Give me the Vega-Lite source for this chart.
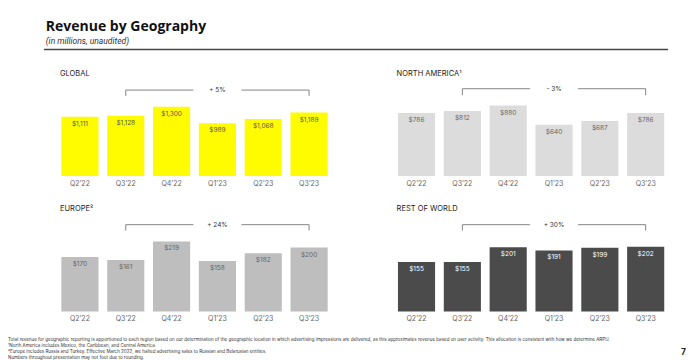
{
  "$schema": "https://vega.github.io/schema/vega-lite/v6.json",
  "padding": {"left": 8, "top": 19.5, "right": 0, "bottom": 0},
  "config": {
    "view": {"stroke": null},
    "font": "Inter",
    "title": {"anchor": "start", "fontSize": 7.5, "fontWeight": "normal", "color": "#222", "offset": 3, "dx": 3, "font": "Inter"},
    "axisX": {"labelFontSize": 7, "labelColor": "#666", "ticks": false, "domain": false, "labelPadding": 3, "grid": false, "labelAngle": 0}
  },
  "datasets": {
    "global": [
      {"quarter": "Q2’22", "revenue": 1111}, {"quarter": "Q3’22", "revenue": 1128}, {"quarter": "Q4’22", "revenue": 1300},
      {"quarter": "Q1’23", "revenue": 989}, {"quarter": "Q2’23", "revenue": 1068}, {"quarter": "Q3’23", "revenue": 1189}
    ],
    "na": [
      {"quarter": "Q2’22", "revenue": 786}, {"quarter": "Q3’22", "revenue": 812}, {"quarter": "Q4’22", "revenue": 880},
      {"quarter": "Q1’23", "revenue": 640}, {"quarter": "Q2’23", "revenue": 687}, {"quarter": "Q3’23", "revenue": 786}
    ],
    "europe": [
      {"quarter": "Q2’22", "revenue": 170}, {"quarter": "Q3’22", "revenue": 161}, {"quarter": "Q4’22", "revenue": 219},
      {"quarter": "Q1’23", "revenue": 158}, {"quarter": "Q2’23", "revenue": 182}, {"quarter": "Q3’23", "revenue": 200}
    ],
    "row": [
      {"quarter": "Q2’22", "revenue": 155}, {"quarter": "Q3’22", "revenue": 155}, {"quarter": "Q4’22", "revenue": 201},
      {"quarter": "Q1’23", "revenue": 191}, {"quarter": "Q2’23", "revenue": 199}, {"quarter": "Q3’23", "revenue": 202}
    ],
    "notes": [
      {"line": 1, "text": "Total revenue for geographic reporting is apportioned to each region based on our determination of the geographic location in which advertising impressions are delivered, as this approximates revenue based on user activity. This allocation is consistent with how we determine ARPU."},
      {"line": 2, "text": "¹North America includes Mexico, the Caribbean, and Central America."},
      {"line": 3, "text": "²Europe includes Russia and Turkey. Effective March 2022, we halted advertising sales to Russian and Belarusian entities."},
      {"line": 4, "text": "Numbers throughout presentation may not foot due to rounding."}
    ]
  },
  "spacing": 14.5,
  "vconcat": [
    {
      "width": 611,
      "height": 5,
      "title": {"text": "Revenue by Geography", "subtitle": "(in millions, unaudited)", "anchor": "start", "font": "Open Sans", "fontSize": 14, "fontWeight": "bold", "color": "#111", "subtitleFontSize": 8.5, "subtitleFontStyle": "italic", "subtitleColor": "#333", "subtitleFont": "Roboto", "subtitlePadding": 3, "offset": 3, "dx": 2.5},
      "data": {"values": [{"start": 0, "end": 1}]},
      "mark": {"type": "rule", "color": "#444", "strokeWidth": 1.4, "xOffset": -13},
      "encoding": {
        "x": {"field": "start", "type": "quantitative", "scale": {"domain": [0, 1]}, "axis": null},
        "x2": {"field": "end"},
        "y": {"datum": 1, "type": "quantitative", "scale": {"domain": [0, 1]}, "axis": null}
      }
    },
    {
      "columns": 2,
      "spacing": {"row": 18.5, "column": 61.6},
      "concat": [
        {
          "width": 275, "height": 96,
          "title": {"text": "GLOBAL"},
          "layer": [
            {"data": {"name": "global"}, "mark": {"type": "bar", "color": "#FFFC00"},
             "encoding": {
               "x": {"field": "quarter", "type": "nominal", "scale": {"domain": ["Q2’22", "Q3’22", "Q4’22", "Q1’23", "Q2’23", "Q3’23"], "paddingInner": 0.19, "paddingOuter": 0.095}, "axis": {"title": null}},
               "y": {"field": "revenue", "type": "quantitative", "scale": {"domain": [0, 1758]}, "axis": null}}},
            {"data": {"name": "global"}, "mark": {"type": "text", "dy": 7, "baseline": "middle", "fontSize": 6.5, "color": "#555"},
             "encoding": {
               "x": {"field": "quarter", "type": "nominal", "axis": {"title": null}},
               "y": {"field": "revenue", "type": "quantitative", "axis": null},
               "text": {"field": "revenue", "type": "quantitative", "format": "$,.0f"}}},
            {"data": {"values": [{"from": "Q3’22", "mid": "Q1’23", "to": "Q3’23", "change": "+ 5%"}]},
             "layer": [
               {"mark": {"type": "rule", "color": "#666", "strokeWidth": 0.8, "x2Offset": -24}, "encoding": {"x": {"field": "from", "type": "nominal", "axis": {"title": null}}, "x2": {"field": "mid"}, "y": {"datum": 1611, "axis": null}}},
               {"mark": {"type": "rule", "color": "#666", "strokeWidth": 0.8, "xOffset": 24}, "encoding": {"x": {"field": "mid", "type": "nominal", "axis": {"title": null}}, "x2": {"field": "to"}, "y": {"datum": 1611, "axis": null}}},
               {"mark": {"type": "rule", "color": "#666", "strokeWidth": 0.8}, "encoding": {"x": {"field": "from", "type": "nominal", "axis": {"title": null}}, "y": {"datum": 1611, "axis": null}, "y2": {"datum": 1501}}},
               {"mark": {"type": "rule", "color": "#666", "strokeWidth": 0.8}, "encoding": {"x": {"field": "to", "type": "nominal", "axis": {"title": null}}, "y": {"datum": 1611, "axis": null}, "y2": {"datum": 1501}}},
               {"mark": {"type": "text", "fontSize": 6.5, "color": "#333", "baseline": "middle"}, "encoding": {"x": {"field": "mid", "type": "nominal", "axis": {"title": null}}, "y": {"datum": 1611, "axis": null}, "text": {"field": "change"}}}
             ]}
          ]
        },
        {
          "width": 275, "height": 96,
          "title": {"text": "NORTH AMERICA¹"},
          "layer": [
            {"data": {"name": "na"}, "mark": {"type": "bar", "color": "#DCDCDC"},
             "encoding": {
               "x": {"field": "quarter", "type": "nominal", "scale": {"domain": ["Q2’22", "Q3’22", "Q4’22", "Q1’23", "Q2’23", "Q3’23"], "paddingInner": 0.19, "paddingOuter": 0.095}, "axis": {"title": null}},
               "y": {"field": "revenue", "type": "quantitative", "scale": {"domain": [0, 1190]}, "axis": null}}},
            {"data": {"name": "na"}, "mark": {"type": "text", "dy": 7, "baseline": "middle", "fontSize": 6.5, "color": "#666"},
             "encoding": {
               "x": {"field": "quarter", "type": "nominal", "axis": {"title": null}},
               "y": {"field": "revenue", "type": "quantitative", "axis": null},
               "text": {"field": "revenue", "type": "quantitative", "format": "$,.0f"}}},
            {"data": {"values": [{"from": "Q3’22", "mid": "Q1’23", "to": "Q3’23", "change": "- 3%"}]},
             "layer": [
               {"mark": {"type": "rule", "color": "#666", "strokeWidth": 0.8, "x2Offset": -24}, "encoding": {"x": {"field": "from", "type": "nominal", "axis": {"title": null}}, "x2": {"field": "mid"}, "y": {"datum": 1091, "axis": null}}},
               {"mark": {"type": "rule", "color": "#666", "strokeWidth": 0.8, "xOffset": 24}, "encoding": {"x": {"field": "mid", "type": "nominal", "axis": {"title": null}}, "x2": {"field": "to"}, "y": {"datum": 1091, "axis": null}}},
               {"mark": {"type": "rule", "color": "#666", "strokeWidth": 0.8}, "encoding": {"x": {"field": "from", "type": "nominal", "axis": {"title": null}}, "y": {"datum": 1091, "axis": null}, "y2": {"datum": 1010}}},
               {"mark": {"type": "rule", "color": "#666", "strokeWidth": 0.8}, "encoding": {"x": {"field": "to", "type": "nominal", "axis": {"title": null}}, "y": {"datum": 1091, "axis": null}, "y2": {"datum": 1010}}},
               {"mark": {"type": "text", "fontSize": 6.5, "color": "#333", "baseline": "middle"}, "encoding": {"x": {"field": "mid", "type": "nominal", "axis": {"title": null}}, "y": {"datum": 1091, "axis": null}, "text": {"field": "change"}}}
             ]}
          ]
        },
        {
          "width": 275, "height": 96,
          "title": {"text": "EUROPE²"},
          "layer": [
            {"data": {"name": "europe"}, "mark": {"type": "bar", "color": "#BEBEBE"},
             "encoding": {
               "x": {"field": "quarter", "type": "nominal", "scale": {"domain": ["Q2’22", "Q3’22", "Q4’22", "Q1’23", "Q2’23", "Q3’23"], "paddingInner": 0.19, "paddingOuter": 0.095}, "axis": {"title": null}},
               "y": {"field": "revenue", "type": "quantitative", "scale": {"domain": [0, 296]}, "axis": null}}},
            {"data": {"name": "europe"}, "mark": {"type": "text", "dy": 7, "baseline": "middle", "fontSize": 6.5, "color": "#666"},
             "encoding": {
               "x": {"field": "quarter", "type": "nominal", "axis": {"title": null}},
               "y": {"field": "revenue", "type": "quantitative", "axis": null},
               "text": {"field": "revenue", "type": "quantitative", "format": "$,.0f"}}},
            {"data": {"values": [{"from": "Q3’22", "mid": "Q1’23", "to": "Q3’23", "change": "+ 24%"}]},
             "layer": [
               {"mark": {"type": "rule", "color": "#666", "strokeWidth": 0.8, "x2Offset": -24}, "encoding": {"x": {"field": "from", "type": "nominal", "axis": {"title": null}}, "x2": {"field": "mid"}, "y": {"datum": 271.3, "axis": null}}},
               {"mark": {"type": "rule", "color": "#666", "strokeWidth": 0.8, "xOffset": 24}, "encoding": {"x": {"field": "mid", "type": "nominal", "axis": {"title": null}}, "x2": {"field": "to"}, "y": {"datum": 271.3, "axis": null}}},
               {"mark": {"type": "rule", "color": "#666", "strokeWidth": 0.8}, "encoding": {"x": {"field": "from", "type": "nominal", "axis": {"title": null}}, "y": {"datum": 271.3, "axis": null}, "y2": {"datum": 253}}},
               {"mark": {"type": "rule", "color": "#666", "strokeWidth": 0.8}, "encoding": {"x": {"field": "to", "type": "nominal", "axis": {"title": null}}, "y": {"datum": 271.3, "axis": null}, "y2": {"datum": 253}}},
               {"mark": {"type": "text", "fontSize": 6.5, "color": "#333", "baseline": "middle"}, "encoding": {"x": {"field": "mid", "type": "nominal", "axis": {"title": null}}, "y": {"datum": 271.3, "axis": null}, "text": {"field": "change"}}}
             ]}
          ]
        },
        {
          "width": 275, "height": 96,
          "title": {"text": "REST OF WORLD"},
          "layer": [
            {"data": {"name": "row"}, "mark": {"type": "bar", "color": "#4B4B4B"},
             "encoding": {
               "x": {"field": "quarter", "type": "nominal", "scale": {"domain": ["Q2’22", "Q3’22", "Q4’22", "Q1’23", "Q2’23", "Q3’23"], "paddingInner": 0.19, "paddingOuter": 0.095}, "axis": {"title": null}},
               "y": {"field": "revenue", "type": "quantitative", "scale": {"domain": [0, 296]}, "axis": null}}},
            {"data": {"name": "row"}, "mark": {"type": "text", "dy": 7, "baseline": "middle", "fontSize": 6.5, "color": "#FFFFFF"},
             "encoding": {
               "x": {"field": "quarter", "type": "nominal", "axis": {"title": null}},
               "y": {"field": "revenue", "type": "quantitative", "axis": null},
               "text": {"field": "revenue", "type": "quantitative", "format": "$,.0f"}}},
            {"data": {"values": [{"from": "Q3’22", "mid": "Q1’23", "to": "Q3’23", "change": "+ 30%"}]},
             "layer": [
               {"mark": {"type": "rule", "color": "#666", "strokeWidth": 0.8, "x2Offset": -24}, "encoding": {"x": {"field": "from", "type": "nominal", "axis": {"title": null}}, "x2": {"field": "mid"}, "y": {"datum": 271.3, "axis": null}}},
               {"mark": {"type": "rule", "color": "#666", "strokeWidth": 0.8, "xOffset": 24}, "encoding": {"x": {"field": "mid", "type": "nominal", "axis": {"title": null}}, "x2": {"field": "to"}, "y": {"datum": 271.3, "axis": null}}},
               {"mark": {"type": "rule", "color": "#666", "strokeWidth": 0.8}, "encoding": {"x": {"field": "from", "type": "nominal", "axis": {"title": null}}, "y": {"datum": 271.3, "axis": null}, "y2": {"datum": 253}}},
               {"mark": {"type": "rule", "color": "#666", "strokeWidth": 0.8}, "encoding": {"x": {"field": "to", "type": "nominal", "axis": {"title": null}}, "y": {"datum": 271.3, "axis": null}, "y2": {"datum": 253}}},
               {"mark": {"type": "text", "fontSize": 6.5, "color": "#333", "baseline": "middle"}, "encoding": {"x": {"field": "mid", "type": "nominal", "axis": {"title": null}}, "y": {"datum": 271.3, "axis": null}, "text": {"field": "change"}}}
             ]}
          ]
        }
      ]
    },
    {
      "width": 629,
      "height": 24,
      "layer": [
        {"data": {"name": "notes"}, "mark": {"type": "text", "align": "left", "baseline": "middle", "fontSize": 4.5, "color": "#333", "dx": -49},
         "encoding": {
           "x": {"datum": 0, "type": "quantitative", "scale": {"domain": [0, 1]}, "axis": null},
           "y": {"field": "line", "type": "ordinal", "axis": null},
           "text": {"field": "text"}}},
        {"data": {"values": [{"page": "7"}]}, "mark": {"type": "text", "align": "right", "baseline": "middle", "fontSize": 8.5, "fontWeight": "bold", "color": "#222"},
         "encoding": {
           "x": {"datum": 1, "type": "quantitative", "axis": null},
           "y": {"datum": 3, "type": "ordinal", "axis": null},
           "text": {"field": "page"}}}
      ]
    }
  ]
}
